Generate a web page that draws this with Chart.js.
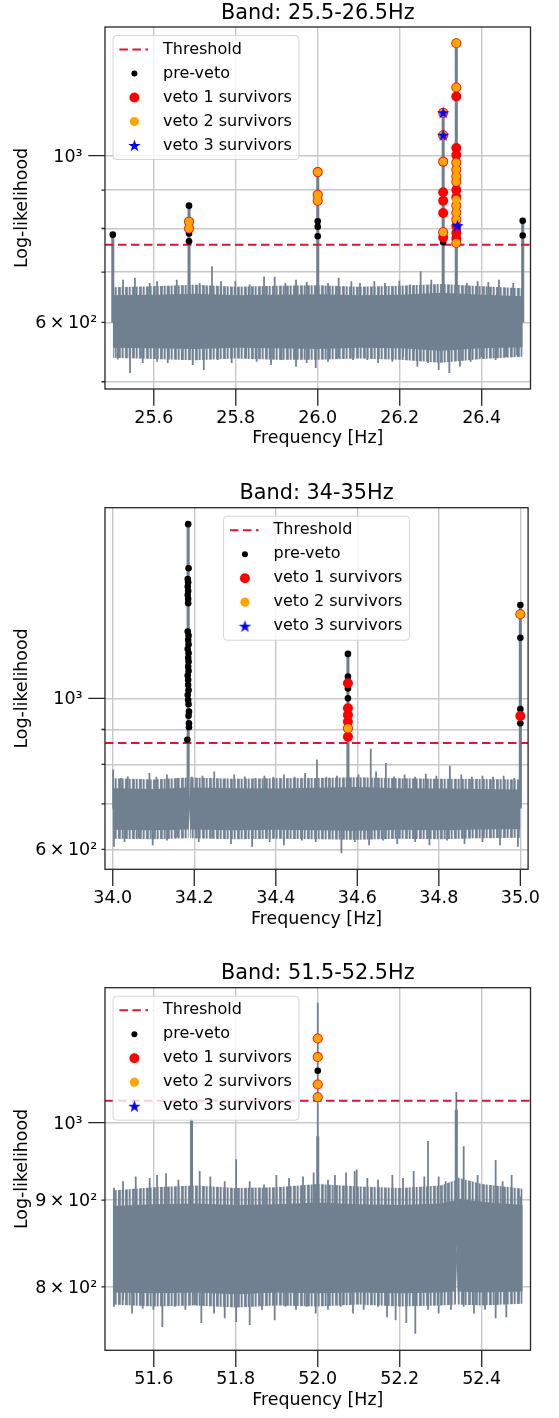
<!DOCTYPE html>
<html lang="en">
<head>
<meta charset="utf-8">
<title>Band veto survivors</title>
<script src="https://cdn.jsdelivr.net/npm/chart.js@4.4.1/dist/chart.umd.min.js"></script>
<style>
  html, body { margin: 0; padding: 0; background: #fff; }
  #page { position: relative; width: 559px; height: 1418px; }
  canvas { position: absolute; left: 0; }
</style>
</head>
<body>
<div id="page">
  <canvas id="band1" width="559" height="470" style="top:0"></canvas>
  <canvas id="band2" width="559" height="480" style="top:470px"></canvas>
  <canvas id="band3" width="559" height="468" style="top:950px"></canvas>
</div>
<script>
// ---------- band 25.5-26.5 Hz ----------
const p1Title = 'Band: 25.5-26.5Hz';
const p1XRange = [25.481, 26.519];
const p1YRange = [489, 1484];
const p1XTicks = [25.6, 25.8, 26.0, 26.2, 26.4];
const p1YTicks = [500, 600, 700, 800, 900, 1000];
const p1YTickLabels = ['', '6\u2009×\u200910²', '', '', '', '10³'];
const p1Threshold = 761;
const p1BandMid = 600;
const p1BandFreq = [25.5, 25.6, 25.7, 25.8, 25.9, 26.0, 26.1, 26.2, 26.3, 26.4, 26.5];
const p1CoreHigh = [652, 653, 655, 652, 653, 654, 652, 653, 657, 653, 650];
const p1CoreLow = [555, 554, 553, 555, 554, 553, 555, 554, 550, 554, 556];
const p1FuzzHigh = [668, 670, 673, 669, 671, 672, 669, 671, 675, 670, 666];
const p1FuzzLow = [538, 536, 534, 537, 535, 535, 537, 535, 530, 536, 540];
const p1PeakTops = [[25.5, 785], [25.686, 858], [26.0, 951], [26.306, 1141], [26.338, 1412], [26.5, 819]];
const p1SpikeTops = [
  [25.525, 683], [25.554, 687], [25.590, 676], [25.608, 680], [25.634, 670], [25.656, 683],
  [25.712, 676], [25.729, 668], [25.742, 712], [25.764, 680], [25.799, 680], [25.834, 673],
  [25.869, 690], [25.895, 689], [25.921, 676], [25.947, 683], [25.973, 678], [26.025, 676],
  [26.051, 687], [26.082, 680], [26.103, 676], [26.138, 680], [26.164, 676], [26.199, 681],
  [26.225, 673], [26.251, 701], [26.277, 683], [26.364, 676], [26.390, 680], [26.416, 678],
  [26.442, 683], [26.477, 676]
];
const p1SpikeBottoms = [
  [25.512, 536], [25.542, 514], [25.573, 530], [25.608, 532], [25.634, 530], [25.669, 535],
  [25.695, 527], [25.722, 519], [25.756, 535], [25.790, 530], [25.825, 540], [25.851, 532],
  [25.886, 527], [25.912, 535], [25.947, 524], [25.973, 530], [25.995, 522], [26.025, 532],
  [26.051, 538], [26.086, 535], [26.121, 535], [26.147, 530], [26.182, 532], [26.208, 540],
  [26.243, 524], [26.269, 530], [26.295, 519], [26.321, 514], [26.347, 524], [26.373, 532],
  [26.399, 540], [26.434, 535], [26.460, 540], [26.486, 543]
];
const p1PreVeto = [
  [25.5, 785], [25.686, 858], [25.686, 817], [25.686, 800], [25.686, 788], [25.686, 769],
  [26.0, 951], [26.0, 887], [26.0, 871], [26.0, 818], [26.0, 804], [26.0, 781],
  [26.306, 1141], [26.306, 1065], [26.306, 982], [26.306, 894], [26.306, 871], [26.306, 839],
  [26.306, 791], [26.306, 778], [26.306, 767],
  [26.338, 1412], [26.338, 1233], [26.338, 1199], [26.338, 1024], [26.338, 979], [26.338, 938],
  [26.338, 900], [26.338, 858], [26.338, 822], [26.338, 789], [26.338, 765],
  [26.5, 819], [26.5, 783]
];
const p1Veto1 = [
  [25.686, 817], [25.686, 800], [26.0, 951], [26.0, 887], [26.0, 871],
  [26.306, 1141], [26.306, 1065], [26.306, 982], [26.306, 894], [26.306, 871], [26.306, 839],
  [26.306, 791], [26.306, 778],
  [26.338, 1412], [26.338, 1233], [26.338, 1199], [26.338, 1024], [26.338, 1002], [26.338, 979],
  [26.338, 958], [26.338, 938], [26.338, 923], [26.338, 900], [26.338, 880], [26.338, 858],
  [26.338, 840], [26.338, 822], [26.338, 806], [26.338, 789], [26.338, 776], [26.338, 765]
];
const p1Veto2 = [
  [25.686, 817], [25.686, 800], [26.0, 951], [26.0, 887], [26.0, 871],
  [26.306, 1141], [26.306, 1065], [26.306, 982], [26.306, 791],
  [26.338, 1412], [26.338, 1233], [26.338, 979], [26.338, 958], [26.338, 938], [26.338, 923],
  [26.338, 874], [26.338, 858], [26.338, 840], [26.338, 822], [26.338, 765]
];
const p1Veto3 = [[26.306, 1141], [26.306, 1065], [26.341, 807]];

// ---------- band 34-35 Hz ----------
const p2Title = 'Band: 34-35Hz';
const p2XRange = [33.981, 35.019];
const p2YRange = [561, 1905];
const p2XTicks = [34.0, 34.2, 34.4, 34.6, 34.8, 35.0];
const p2YTicks = [600, 700, 800, 900, 1000];
const p2YTickLabels = ['6\u2009×\u200910²', '', '', '', '10³'];
const p2Threshold = 860;
const p2BandMid = 690;
const p2BandFreq = [34.0, 34.1, 34.186, 34.188, 34.19, 34.3, 34.4, 34.5, 34.6, 34.7, 34.8, 34.9, 35.0];
const p2CoreHigh = [738, 736, 740, 700, 740, 738, 737, 739, 741, 738, 737, 736, 735];
const p2CoreLow = [641, 640, 642, 700, 642, 640, 641, 640, 639, 641, 640, 642, 643];
const p2FuzzHigh = [763, 760, 765, 700, 765, 762, 763, 764, 766, 763, 762, 761, 760];
const p2FuzzLow = [622, 621, 623, 700, 623, 621, 622, 621, 620, 622, 621, 623, 624];
const p2PeakTops = [[34.185, 1802], [34.577, 1162], [35.0, 1371]];
const p2SpikeTops = [
  [34.001, 785], [34.020, 763], [34.037, 767], [34.068, 759], [34.090, 776], [34.107, 766],
  [34.133, 772], [34.159, 763], [34.194, 766], [34.220, 769], [34.249, 780], [34.272, 759],
  [34.298, 772], [34.324, 767], [34.350, 763], [34.372, 769], [34.394, 766], [34.420, 772],
  [34.446, 766], [34.472, 776], [34.501, 812], [34.524, 766], [34.550, 769], [34.603, 772],
  [34.633, 842], [34.646, 780], [34.670, 803], [34.690, 767], [34.716, 772], [34.742, 766],
  [34.768, 774], [34.794, 769], [34.827, 795], [34.855, 772], [34.881, 766], [34.907, 769],
  [34.933, 766], [34.959, 769], [34.985, 763]
];
const p2SpikeBottoms = [
  [34.003, 606], [34.029, 616], [34.063, 623], [34.098, 609], [34.133, 619], [34.159, 626],
  [34.211, 616], [34.246, 623], [34.290, 612], [34.342, 606], [34.385, 616], [34.420, 609],
  [34.464, 619], [34.498, 616], [34.561, 593], [34.594, 616], [34.629, 609], [34.663, 619],
  [34.698, 612], [34.742, 616], [34.777, 609], [34.820, 619], [34.863, 612], [34.907, 616],
  [34.950, 609], [34.994, 606]
];
const p2PreVeto = [
  [34.185, 1802], [34.186, 1552], [34.184, 1497], [34.185, 1480], [34.184, 1459], [34.185, 1438],
  [34.184, 1418], [34.185, 1399], [34.185, 1379], [34.184, 1253], [34.186, 1236], [34.185, 1218],
  [34.186, 1200], [34.184, 1181], [34.186, 1165], [34.185, 1147], [34.186, 1132], [34.185, 1113],
  [34.186, 1097], [34.184, 1080], [34.185, 1064], [34.185, 1046], [34.186, 1028], [34.184, 1011],
  [34.185, 994], [34.186, 980], [34.187, 956], [34.186, 943], [34.187, 919], [34.187, 907],
  [34.183, 869],
  [34.577, 1162], [34.577, 1076], [34.577, 1052], [34.577, 1034], [34.577, 1000], [34.577, 967],
  [34.577, 945], [34.577, 924], [34.577, 904], [34.577, 878],
  [35.0, 1371], [35.0, 1329], [35.0, 1227], [35.0, 964], [35.0, 942], [35.0, 919]
];
const p2Veto1 = [
  [34.577, 1052], [34.577, 967], [34.577, 945], [34.577, 924], [34.577, 904], [34.577, 878],
  [35.0, 1329], [35.0, 942]
];
const p2Veto2 = [[34.577, 904], [35.0, 1329]];
const p2Veto3 = [];

// ---------- band 51.5-52.5 Hz ----------
const p3Title = 'Band: 51.5-52.5Hz';
const p3XRange = [51.481, 52.519];
const p3YRange = [734, 1201];
const p3XTicks = [51.6, 51.8, 52.0, 52.2, 52.4];
const p3YTicks = [800, 900, 1000];
const p3YTickLabels = ['8\u2009×\u200910²', '9\u2009×\u200910²', '10³'];
const p3Threshold = 1030;
const p3BandMid = 845;
const p3BandFreq = [51.5, 51.6, 51.7, 51.8, 51.9, 52.0, 52.1, 52.2, 52.3, 52.337, 52.339, 52.341, 52.4, 52.5];
const p3CoreHigh = [893, 895, 896, 894, 895, 897, 895, 894, 896, 900, 830, 902, 898, 894];
const p3CoreLow = [794, 793, 794, 792, 794, 793, 794, 793, 794, 795, 830, 795, 794, 795];
const p3FuzzHigh = [912, 916, 918, 915, 916, 920, 917, 915, 918, 925, 830, 928, 920, 914];
const p3FuzzLow = [781, 779, 780, 778, 780, 779, 781, 779, 780, 781, 830, 781, 780, 782];
const p3PeakTops = [[51.692, 1004], [52.0, 981], [52.338, 1017]];
const p3SpikeTops = [
  [51.503, 915], [51.525, 923], [51.556, 929], [51.590, 927], [51.608, 931], [51.630, 933],
  [51.660, 925], [51.712, 936], [51.738, 929], [51.773, 923], [51.801, 951], [51.834, 923],
  [51.869, 919], [51.899, 931], [51.930, 927], [51.964, 929], [51.990, 934], [52.0, 1176],
  [52.025, 925], [52.042, 931], [52.069, 934], [52.090, 936], [52.095, 938], [52.121, 927],
  [52.147, 925], [52.182, 931], [52.208, 927], [52.234, 936], [52.260, 929], [52.269, 975],
  [52.295, 929], [52.312, 923], [52.338, 1042], [52.356, 968], [52.390, 931], [52.434, 950],
  [52.451, 923], [52.473, 931], [52.495, 904]
];
const p3SpikeBottoms = [
  [51.503, 779], [51.525, 786], [51.547, 772], [51.573, 777], [51.599, 776], [51.621, 758],
  [51.651, 779], [51.677, 776], [51.699, 781], [51.716, 762], [51.747, 772], [51.773, 767],
  [51.801, 763], [51.834, 760], [51.864, 776], [51.895, 765], [51.921, 779], [51.947, 776],
  [51.973, 779], [51.995, 772], [52.025, 776], [52.056, 779], [52.086, 772], [52.112, 776],
  [52.147, 779], [52.169, 768], [52.190, 765], [52.216, 762], [52.238, 751], [52.269, 776],
  [52.295, 772], [52.325, 776], [52.356, 779], [52.381, 772], [52.408, 776], [52.434, 767],
  [52.460, 768], [52.490, 786]
];
const p3PreVeto = [[52.0, 1121], [52.0, 1093], [52.0, 1073], [52.0, 1053], [52.0, 1035]];
const p3Veto1 = [[52.0, 1121], [52.0, 1093], [52.0, 1053], [52.0, 1035]];
const p3Veto2 = [[52.0, 1121], [52.0, 1093], [52.0, 1053], [52.0, 1035]];
const p3Veto3 = [];

const legendOrder = ['Threshold', 'pre-veto', 'veto 1 survivors', 'veto 2 survivors', 'veto 3 survivors'];

Chart.defaults.font.family = "'DejaVu Sans', 'Liberation Sans', sans-serif";
Chart.defaults.color = '#000';

const SLATE = '#708090';
const GRID = '#c8c8c8';
const INK = '#262626';

// filled five point star used for the veto 3 markers
const starMarker = (() => {
  const c = document.createElement('canvas');
  c.width = c.height = 13;
  const g = c.getContext('2d');
  const r = 6.5, ri = 2.6;
  g.beginPath();
  for (let i = 0; i < 10; i++) {
    const a = -Math.PI / 2 + i * Math.PI / 5;
    const rr = i % 2 ? ri : r;
    g.lineTo(6.5 + rr * Math.cos(a), 7 + rr * Math.sin(a));
  }
  g.closePath();
  g.fillStyle = '#0000ff';
  g.fill();
  return c;
})();

// streaky fill for the ragged edge of the noise band
function edgePattern(ctx) {
  const tile = document.createElement('canvas');
  tile.width = 7;
  tile.height = 1;
  const g = tile.getContext('2d');
  [1, 0.8, 0.35, 1, 0.65, 0.15, 0.9].forEach((a, i) => {
    g.fillStyle = `rgba(112,128,144,${a})`;
    g.fillRect(i, 0, 1, 1);
  });
  return ctx.createPattern(tile, 'repeat');
}

const toPoints = pairs => pairs.map(([x, y]) => ({ x, y }));
const toBand = (freq, vals) => freq.map((f, i) => ({ x: f, y: vals[i] }));
const toBars = (pairs, base) => pairs.map(([x, y]) => ({ x, y: [base, y] }));

// box around the axes plus the outward tick marks
const axesFrame = {
  id: 'axesFrame',
  afterDatasetsDraw(chart) {
    const { ctx, chartArea: a, scales: { x, y } } = chart;
    ctx.save();
    ctx.strokeStyle = INK;
    ctx.lineWidth = 1.3;
    ctx.beginPath();
    x.ticks.forEach(t => {
      const px = x.getPixelForValue(t.value);
      ctx.moveTo(px, a.bottom);
      ctx.lineTo(px, a.bottom + 16.7);
    });
    y.ticks.forEach(t => {
      const py = y.getPixelForValue(t.value);
      ctx.moveTo(a.left, py);
      ctx.lineTo(a.left - (t.major ? 16.7 : 3.5), py);
    });
    ctx.stroke();
    ctx.strokeRect(a.left, a.top, a.right - a.left, a.bottom - a.top);
    ctx.restore();
  }
};

// matplotlib style legend drawn inside the plot
const boxLegend = {
  id: 'boxLegend',
  afterDraw(chart, args, opts) {
    const { ctx, chartArea: a } = chart;
    const w = 186, h = 124;
    const left = opts.align === 'center' ? (a.left + a.right - w) / 2 : a.left + 8;
    const top = a.top + 8.5;
    ctx.save();
    ctx.beginPath();
    ctx.roundRect(left, top, w, h, 3.5);
    ctx.fillStyle = 'rgba(255,255,255,0.8)';
    ctx.fill();
    ctx.strokeStyle = 'rgba(204,204,204,0.8)';
    ctx.lineWidth = 1;
    ctx.stroke();

    legendOrder.forEach((label, i) => {
      const ds = chart.data.datasets.find(d => d.label === label);
      const cy = top + 14 + i * 24;
      const cx = left + 21.4;
      if (ds.type === 'line') {
        ctx.beginPath();
        ctx.setLineDash(ds.borderDash);
        ctx.strokeStyle = ds.borderColor;
        ctx.lineWidth = ds.borderWidth;
        ctx.moveTo(left + 6.4, cy);
        ctx.lineTo(left + 35, cy);
        ctx.stroke();
        ctx.setLineDash([]);
      } else if (ds.pointStyle instanceof HTMLCanvasElement) {
        const img = ds.pointStyle;
        ctx.drawImage(img, cx - img.width / 2, cy - img.height / 2);
      } else {
        ctx.beginPath();
        ctx.arc(cx, cy, ds.legendRadius, 0, Math.PI * 2);
        ctx.fillStyle = ds.pointBackgroundColor;
        ctx.fill();
      }
      ctx.fillStyle = '#000';
      ctx.font = "16px 'DejaVu Sans'";
      ctx.textBaseline = 'middle';
      ctx.textAlign = 'left';
      ctx.fillText(label, left + 50, cy);
    });
    ctx.restore();
  }
};

function makeBandChart(id, p) {
  const canvas = document.getElementById(id);
  const datasets = [
    { type: 'scatter', label: 'veto 3 survivors', data: toPoints(p.veto3), pointStyle: starMarker,
      pointRadius: 5, pointBorderWidth: 0, order: 0 },
    { type: 'scatter', label: 'veto 2 survivors', data: toPoints(p.veto2), pointBackgroundColor: '#ffa500',
      pointRadius: 4.2, legendRadius: 4.6, pointBorderWidth: 0, order: 1 },
    { type: 'scatter', label: 'veto 1 survivors', data: toPoints(p.veto1), pointBackgroundColor: '#ff0000',
      pointRadius: 5, legendRadius: 5, pointBorderWidth: 0, order: 2 },
    { type: 'scatter', label: 'pre-veto', data: toPoints(p.preVeto), pointBackgroundColor: '#000000',
      pointRadius: 3.3, legendRadius: 3, pointBorderWidth: 0, order: 3 },
    { type: 'line', label: 'Threshold',
      data: [{ x: p.xRange[0], y: p.threshold }, { x: p.xRange[1], y: p.threshold }],
      borderColor: '#dc143c', borderWidth: 2, borderDash: [8.5, 4.5], pointRadius: 0, order: 4 },
    { type: 'bar', label: 'spikes', data: toBars(p.spikeTops, p.bandMid).concat(toBars(p.spikeBottoms, p.bandMid)),
      backgroundColor: SLATE, barThickness: 1.1, grouped: false, order: 5 },
    { type: 'bar', label: 'peaks', data: toBars(p.peakTops, p.bandMid),
      backgroundColor: SLATE, barThickness: 2.4, grouped: false, order: 5 },
    { type: 'line', label: 'core', data: toBand(p.freq, p.coreHigh), fill: '+1', backgroundColor: SLATE,
      borderWidth: 0, pointRadius: 0, tension: 0, order: 6 },
    { type: 'line', label: 'coreLow', data: toBand(p.freq, p.coreLow), borderWidth: 0,
      pointRadius: 0, tension: 0, order: 7 },
    { type: 'line', label: 'fuzz', data: toBand(p.freq, p.fuzzHigh), fill: '+1',
      backgroundColor: edgePattern(canvas.getContext('2d')), borderWidth: 0, pointRadius: 0, tension: 0, order: 8 },
    { type: 'line', label: 'fuzzLow', data: toBand(p.freq, p.fuzzLow), borderWidth: 0,
      pointRadius: 0, tension: 0, order: 9 }
  ];

  return new Chart(canvas, {
    type: 'scatter',
    data: { datasets },
    options: {
      responsive: false,
      animation: false,
      devicePixelRatio: 1,
      events: [],
      layout: { padding: { left: 0, right: 28.5, top: 0, bottom: p.padBottom } },
      plugins: {
        legend: { display: false },
        tooltip: { enabled: false },
        title: {
          display: true, text: p.title, fullSize: false, color: '#000',
          font: { size: 20.8, weight: 'normal' },
          padding: { top: p.titlePadTop, bottom: 1.3 }
        },
        boxLegend: { align: p.legendAlign }
      },
      scales: {
        x: {
          type: 'linear', min: p.xRange[0], max: p.xRange[1], bounds: 'data', offset: false,
          afterBuildTicks: s => { s.ticks = p.xTicks.map(v => ({ value: v })); },
          afterFit: s => { s.height = 60.3; },
          ticks: { autoSkip: false, maxRotation: 0, padding: 18.6, font: { size: 17.5 }, color: '#000',
                   callback: v => v.toFixed(1) },
          grid: { color: GRID, lineWidth: 1.4, drawTicks: false, offset: false },
          border: { display: false },
          title: { display: true, text: 'Frequency [Hz]', color: '#000', font: { size: 17.4 },
                   padding: { top: 0, bottom: 0 } }
        },
        y: {
          type: 'logarithmic', min: p.yRange[0], max: p.yRange[1], bounds: 'data',
          beginAtZero: false, offset: false,
          afterBuildTicks: s => { s.ticks = p.yTicks.map(v => ({ value: v, major: v === 1000 })); },
          afterFit: s => { s.width = 105; },
          ticks: { autoSkip: false, padding: 7.8, labelOffset: 1.5, font: { size: 17.5 }, color: '#000',
                   callback: v => {
                     const label = p.yTickLabels[p.yTicks.indexOf(v)];
                     return v === 1000 ? label + '\u2007\u2009' : label;
                   } },
          grid: { color: GRID, lineWidth: 1.4, drawTicks: false, offset: false },
          border: { display: false },
          title: { display: true, text: 'Log-likelihood', color: '#000', font: { size: 17.4 },
                   padding: { top: 11.8, bottom: 0 } }
        }
      }
    },
    plugins: [axesFrame, boxLegend]
  });
}

makeBandChart('band1', {
  title: p1Title, xRange: p1XRange, yRange: p1YRange, xTicks: p1XTicks, yTicks: p1YTicks,
  yTickLabels: p1YTickLabels, threshold: p1Threshold, bandMid: p1BandMid, freq: p1BandFreq,
  coreHigh: p1CoreHigh, coreLow: p1CoreLow, fuzzHigh: p1FuzzHigh, fuzzLow: p1FuzzLow,
  peakTops: p1PeakTops, spikeTops: p1SpikeTops, spikeBottoms: p1SpikeBottoms,
  preVeto: p1PreVeto, veto1: p1Veto1, veto2: p1Veto2, veto3: p1Veto3,
  titlePadTop: 0.74, padBottom: 20.7, legendAlign: 'left'
});

makeBandChart('band2', {
  title: p2Title, xRange: p2XRange, yRange: p2YRange, xTicks: p2XTicks, yTicks: p2YTicks,
  yTickLabels: p2YTickLabels, threshold: p2Threshold, bandMid: p2BandMid, freq: p2BandFreq,
  coreHigh: p2CoreHigh, coreLow: p2CoreLow, fuzzHigh: p2FuzzHigh, fuzzLow: p2FuzzLow,
  peakTops: p2PeakTops, spikeTops: p2SpikeTops, spikeBottoms: p2SpikeBottoms,
  preVeto: p2PreVeto, veto1: p2Veto1, veto2: p2Veto2, veto3: p2Veto3,
  titlePadTop: 11.44, padBottom: 20.4, legendAlign: 'center'
});

makeBandChart('band3', {
  title: p3Title, xRange: p3XRange, yRange: p3YRange, xTicks: p3XTicks, yTicks: p3YTicks,
  yTickLabels: p3YTickLabels, threshold: p3Threshold, bandMid: p3BandMid, freq: p3BandFreq,
  coreHigh: p3CoreHigh, coreLow: p3CoreLow, fuzzHigh: p3FuzzHigh, fuzzLow: p3FuzzLow,
  peakTops: p3PeakTops, spikeTops: p3SpikeTops, spikeBottoms: p3SpikeBottoms,
  preVeto: p3PreVeto, veto1: p3Veto1, veto2: p3Veto2, veto3: p3Veto3,
  titlePadTop: 11.44, padBottom: 7.4, legendAlign: 'left'
});
</script>
</body>
</html>
